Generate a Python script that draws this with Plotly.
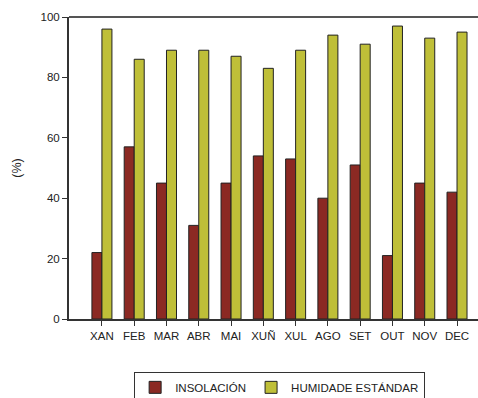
import plotly.graph_objects as go

months = ["XAN", "FEB", "MAR", "ABR", "MAI", "XUÑ", "XUL", "AGO", "SET", "OUT", "NOV", "DEC"]
insolacion = [22, 57, 45, 31, 45, 54, 53, 40, 51, 21, 45, 42]
humidade = [96, 86, 89, 89, 87, 83, 89, 94, 91, 97, 93, 95]
y_ticks = [0, 20, 40, 60, 80, 100]

fig = go.Figure()
fig.add_trace(go.Bar(x=months, y=insolacion, name="INSOLACIÓN",
                     marker=dict(color="#8B2923", line=dict(color="#222222", width=1))))
fig.add_trace(go.Bar(x=months, y=humidade, name="HUMIDADE ESTÁNDAR",
                     marker=dict(color="#BFBF38", line=dict(color="#222222", width=1))))

fig.update_layout(
    width=478, height=398,
    margin=dict(l=69, r=0, t=17, b=79, autoexpand=False),
    barmode="group", bargap=0.38, bargroupgap=0,
    plot_bgcolor="white", paper_bgcolor="white",
    font=dict(family="Liberation Sans, Arial, sans-serif", size=11.5, color="#222222"),
    showlegend=True,
    legend=dict(orientation="h", x=0.515, xanchor="center", y=-0.175, yanchor="top",
                bordercolor="#333333", borderwidth=1, font=dict(size=11.5),
                itemwidth=30, tracegroupgap=0),
)
# top frame line
fig.add_shape(type="line", xref="paper", yref="paper", x0=0, x1=1, y0=1, y1=1,
              line=dict(color="#555555", width=2), layer="above")
fig.update_xaxes(range=[-1.02, 11.65], showline=True, linecolor="#333333", linewidth=2,
                 mirror=False, ticks="outside", ticklen=5, tickcolor="#333333",
                 showgrid=False, tickangle=0, automargin=False)
fig.update_yaxes(range=[0, 100], tickvals=y_ticks, showline=True, linecolor="#333333",
                 linewidth=2, ticks="outside", ticklen=5, tickcolor="#333333",
                 showgrid=False, zeroline=False, automargin=False, mirror=False,
                 title=dict(text="(%)", standoff=16, font=dict(size=12.5)))

fig.write_html("out.html", config={"displayModeBar": False, "staticPlot": True},
               post_script="document.body.style.margin='0px';document.body.style.overflow='hidden';")
